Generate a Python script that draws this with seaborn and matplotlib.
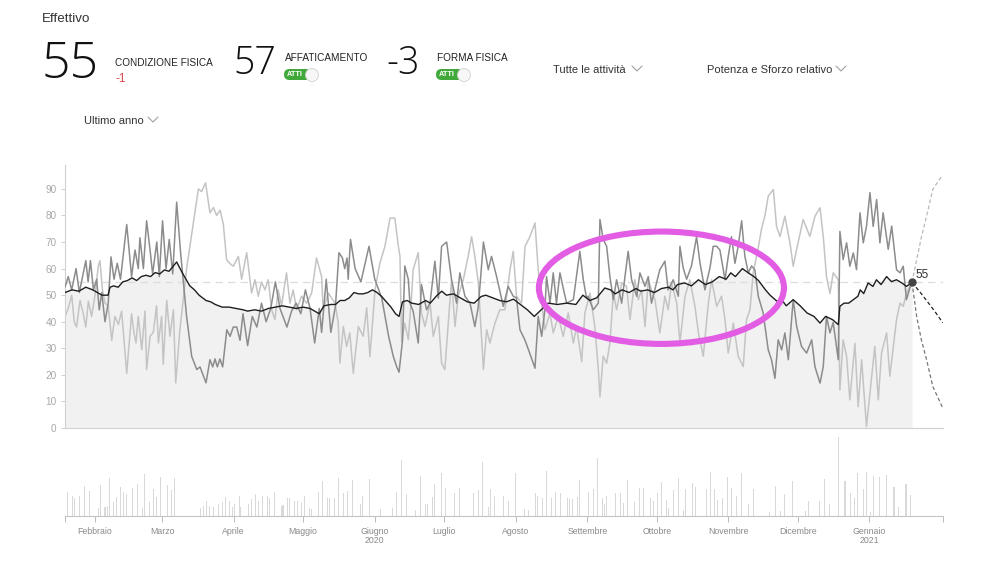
import numpy as np
import pandas as pd
import matplotlib
matplotlib.use('Agg')
import matplotlib.pyplot as plt
import matplotlib.dates as mdates
from matplotlib.patches import Ellipse, FancyBboxPatch, Circle
from matplotlib.lines import Line2D
import seaborn as sns

sns.set_theme(style='white')
plt.rcParams['font.family'] = ['Liberation Sans', 'DejaVu Sans']

START = pd.Timestamp('2020-01-19')

# ---------------- data (day offsets from START) ----------------
fit_days = [0, 3, 6, 9, 12, 14, 16, 18.6, 19.5, 21, 23, 25, 27, 29, 31, 33, 35, 37, 39, 41, 43, 45, 48.3,
            51, 54, 56, 58, 61, 63, 65, 68, 71, 74, 77, 79, 82, 85, 88, 91, 94, 97, 100, 103, 106, 108, 110,
            112, 115, 117, 119, 121, 123, 125, 127, 129, 131, 133, 135, 137, 139, 141, 143, 144.5, 146, 148,
            150, 153, 156, 158, 161, 163, 165, 168, 171, 174, 177, 180, 182, 185, 188, 191, 194, 197, 200,
            203, 206, 209, 213, 217, 221, 224, 227, 230, 233.5, 236, 238, 241, 244, 247, 249, 252, 255, 258,
            261, 263, 265, 268, 271, 274, 277, 280, 283, 286, 288, 290, 293, 295.6, 298, 300, 303, 305, 308,
            310, 312, 315, 318, 321, 324, 326.6, 329, 332, 334.5, 335.2, 337, 339, 341, 343, 344, 345.5,
            347.4, 349.5, 351, 353, 355.4, 357.5, 359.7, 362, 364, 366.4]
fit_vals = [51, 52, 51.5, 53, 52, 51, 50, 50, 53, 53.5, 53, 55, 55.5, 56.5, 55.5, 57, 57.5, 57, 58.5, 58, 59.5, 59, 62.5,
            58, 53.5, 52, 50, 48, 47.5, 46.5, 45.5, 45.5, 45, 44.5, 44, 44.5, 44, 45, 45.5, 46, 45.5, 45, 45.5, 45, 44, 43,
            46, 46.5, 46.5, 48, 48, 49, 51, 50.5, 50.5, 51, 52, 51, 49.5, 47.5, 45.5, 43, 42, 47.5, 48,
            47, 46.5, 48, 47, 50, 51.5, 50, 50.5, 49, 47.5, 47, 49.5, 50, 49, 48, 47.5, 48.5, 46.5, 44.5,
            42, 44.5, 47, 46.5, 47, 46.5, 50, 48, 49, 52.7, 52, 50.5, 52, 51, 52.5, 51.5, 52, 51, 52.5,
            53, 52, 54, 54.6, 53.5, 55.8, 54, 55, 57, 56, 58.4, 57, 60, 58.4, 57, 55.5, 52, 50, 47.7,
            48.3, 46, 48.3, 46, 43.3, 42, 39.5, 42, 40.8, 38.9, 45.8, 47, 47, 48.3, 49.6, 52, 50.6,
            54.6, 53.3, 55.8, 54, 57, 55.1, 55.8, 54.6, 53.3, 54.8]

fat_days = [0, 1.4, 2.9, 4.8, 6.2, 7.6, 9, 10, 11, 12.3, 13.7, 14.8, 15.9, 17.3, 18.7, 19.9, 21.2, 22.6, 24, 26.7,
            28.8, 30.3, 31.7, 32.4, 33.9, 35.3, 36.8, 37.9, 39.7, 40.8, 42.2, 43.7, 45.1, 46.6, 48.3, 50, 52.6,
            54.8, 57, 58.4, 61, 62.7, 63.9, 64.9, 65.9, 67, 68.2, 70, 71.4, 72.8, 74.3, 75.7, 77, 79, 81, 83, 85,
            87, 89, 91, 93, 96, 98, 100, 102, 104, 106, 108, 110, 111, 113, 115, 117, 118.5, 120, 121, 122,
            122.5, 123.5, 125.5, 128, 131.5, 134, 137, 140, 142, 143.5, 144.5, 146, 147, 148.5, 149.2, 150.6,
            152.8, 154.2, 156.4, 157.9, 160, 161.5, 162.9, 165.1, 167.2, 169.4, 170.8, 173, 175.2, 177.3, 178.8,
            181, 183.1, 184.5, 186.7, 189.6, 191.7, 193.9, 195.3, 196.8, 199, 201.1, 203.3, 204.7, 206.2, 207.6,
            208.3, 209.8, 211.2, 212.6, 214.1, 215.5, 217, 219.9, 222.7, 224.2, 225.6, 226.3, 228.5, 230.7,
            231.4, 232.8, 234.3, 235.7, 237.2, 238.6, 240.8, 243.6, 245.1, 247.3, 248.7, 250.9, 252.3, 253.7,
            255.9, 257.3, 259.5, 260.9, 263.1, 265.3, 266, 267.4, 268.9, 271, 273.2, 274.7, 276.8, 279, 280.4,
            281.9, 283.3, 285.5, 286.9, 288.3, 289.8, 291.2, 292.7, 294.1, 295.6, 297, 298.4, 299.9, 302, 302.8,
            304.2, 305.6, 307.1, 308.5, 310, 311.4, 312.9, 315, 316.5, 318.6, 320.8, 323, 324.4, 326.6, 328,
            329.4, 330.9, 332.3, 334.5, 335.2, 336.6, 338.1, 339.5, 341, 342.4, 343.9, 345.3, 346.7, 348.2,
            349.6, 351.1, 352.5, 353.9, 356.1, 357.6, 359.7, 361.2, 362.6, 364, 365.5, 366.4]
fat_vals = [53, 57, 52, 60, 51, 57, 63, 55, 63, 52, 56, 44.5, 51, 40, 47, 64.4, 56, 62, 56, 76.6,
            57, 67, 60, 71.6, 60, 78, 67, 58, 70, 57, 78, 60, 71, 58, 85, 66, 42,
            27, 22, 23, 17, 25.7, 23, 26, 23, 26, 23, 37, 34.5, 38, 38, 33, 43, 31, 42, 38, 47,
            40, 45, 55, 45, 38, 44, 47, 43, 52, 45, 32, 45, 36, 56, 36, 46, 66, 64, 60, 64,
            56, 71, 60, 55, 68.4, 56, 49, 34.5, 27, 23, 21, 33, 61, 56, 47, 44,
            32, 54, 44.5, 47, 62.8, 48.9, 68.4, 70, 55.8, 47, 58.4, 49.6, 47, 38.2, 45.8,
            70, 59.6, 64.6, 57, 45.8, 53.3, 49.6, 49, 37, 33, 28, 22.5, 42, 34.5, 44.5,
            57, 47, 58.4, 47, 58.4, 52.7, 47, 48.3, 66.5, 55.8, 49, 49.6, 44.5, 47,
            78.5, 71, 68.4, 57, 48.3, 55.8, 47, 66.5, 55.8, 49.6, 58.4, 53.3, 57, 47,
            54.6, 59.6, 62.8, 52, 55.8, 49.6, 68.4, 60.3, 56, 61, 72, 62, 52, 60.3, 68.4,
            68.4, 67, 55.8, 64.6, 72, 62, 68.4, 78, 64.6, 58.4, 61, 59.6, 49.6, 43.3, 38.2,
            29.4, 25.7, 18.7, 33.2, 29.4, 35.8, 25.7, 48.3, 38.2, 30.7, 28.2, 33.2, 23.1, 16.9, 23.1,
            42, 35.8, 39.7, 25.7, 74, 63.4, 69.7, 60.9, 65.9, 59.6, 81, 69.7, 75.9, 88.6,
            75.9, 86, 69.7, 81, 67.3, 76, 59.6, 58.4, 60.9, 48.3, 52.8, 54.3]

form_days = [0, 1.4, 2.9, 4, 5, 6.5, 7.9, 9, 10.1, 11.5, 13, 14.4, 15.1, 16.2, 17.3, 18.7, 20.2, 21.6, 23.1, 24.5,
             26.7, 28.8, 29.8, 30.7, 31.7, 33.2, 34.6, 35.3, 36.8, 38.2, 39.6, 40.4, 41.8, 42.5, 44, 45.4, 46.9,
             47.9, 49.7, 52.6, 55.5, 57.7, 59.1, 60.8, 62.7, 64.2, 65.6, 67.1, 68.5, 69.9, 71.2, 72.8, 75, 76.4,
             78.6, 80.7, 82.2, 83.6, 85, 86.5, 87.9, 89.4, 90.8, 92.2, 93.7, 95.8, 97.3, 98.7, 100.2, 102.3, 104.5,
             106.7, 108.8, 111, 111.7, 113.9, 116.8, 118.2, 118.9, 120.4, 121.8, 123.2, 124.7, 126.9, 129, 130.5,
             131.9, 134.1, 136.2, 138.4, 140.6, 142.7, 144.2, 144.9, 145.6, 147, 148.5, 149.9, 150.6, 152.8, 154.2,
             155.7, 157.9, 159.3, 161.5, 162.9, 164.3, 165.8, 167.2, 168.7, 170.1, 172.3, 174.4, 175.9, 177.3,
             178.8, 181, 182.4, 183.8, 186, 188.1, 190.3, 192.5, 193.9, 195.3, 197.5, 199, 201.1, 203.3, 204.7,
             206.2, 207.6, 209.8, 211.2, 213.4, 215.5, 217.7, 219.9, 221.3, 223.5, 224.9, 227.1, 229.2, 230.7,
             231.4, 232.8, 234.3, 235.7, 237.2, 238.6, 240.8, 242.9, 244.4, 246.5, 248, 249.4, 250.9, 252.3,
             253.7, 255.2, 257.3, 259.5, 260.9, 262.4, 264.6, 266, 268.2, 270.3, 272.5, 274, 276.1, 278.3, 279.7,
             281.9, 284, 285.5, 286.9, 289.1, 291.2, 293.4, 294.8, 296.3, 297.7, 299.9, 301.3, 302.8, 304.2,
             306.4, 307.8, 309.3, 311.4, 313.6, 315, 316.5, 319.3, 322.2, 324.4, 326.6, 328, 329.4, 330.9, 332.3,
             334.5, 335.2, 336.6, 338.1, 339.5, 341.7, 343.1, 344.6, 346.7, 348.2, 350.3, 351.8, 353.2, 355.4,
             356.8, 358.3, 359.7, 361.2, 362.6, 364, 365.5, 366.4]
form_vals = [42, 45, 50, 40, 38, 48, 43, 38, 47.7, 42, 50, 61, 63, 52, 47, 46, 33, 42, 39, 44,
             20.6, 43, 36, 32, 42, 29.4, 44, 22, 34.5, 36, 46, 32, 42, 24, 48, 34.5, 44.5,
             17, 37, 60, 77, 90, 89, 92.3, 81, 83, 80, 82, 76.6, 63.4, 62, 60.9, 64.6, 56,
             66, 50.8, 55.8, 49.6, 55, 52, 55.8, 44.5, 40.8, 52, 46, 58.4, 47, 52, 44.5, 49.6, 47,
             50.8, 64, 57, 44.5, 50.8, 47, 39.5, 24.4, 38.2, 30.7, 35.8, 20.6, 38.2, 34.5, 45.2,
             26.9, 52, 62, 68.4, 79, 79, 68.4, 64.6, 32.6, 39.5, 33.2, 49.6, 59.6, 66, 43.3,
             38.2, 47, 34.5, 42, 24.4, 22, 39.5, 55.8, 38.2, 49.6, 55.8, 64.6, 72, 64.6,
             54.6, 22, 37, 32, 39.5, 44.5, 44.5, 59.6, 66.5, 49.6, 47, 68.4, 72, 77.2, 59.6,
             47, 37, 43.3, 35.8, 42, 34.5, 43.3, 32, 38.2, 25, 43.3, 50.8, 38.2, 22,
             11.8, 27, 24.4, 32, 50.8, 44.5, 54.6, 53.3, 40.8, 55.8, 48.3, 52, 38.2, 55.8,
             52, 48.3, 35.8, 49.6, 44.5, 54.6, 47, 32, 49.6, 55.8, 45.8, 35.8, 27, 47, 55.8,
             45.8, 49.6, 40.8, 28.2, 39.5, 27, 23.1, 40.8, 44.5, 58.4, 68, 75, 80, 87.3,
             89.8, 75.9, 72.1, 79.7, 69.7, 60.9, 67.3, 78.5, 72.1, 79.7, 82.9, 72.1, 57, 50.6, 58.4,
             55.8, 14.3, 33.2, 26.9, 10.6, 31.9, 8, 25.7, 0.5, 13.1, 30.7, 10.6, 28.2, 35.8,
             19.5, 30.7, 40.8, 47, 45.8, 50.8, 53.3, 54.3]

# projections
fit_proj_days = [366.4, 370, 374, 377, 379.7]
fit_proj_vals = [54.8, 51, 46.5, 43, 39.6]
form_proj_days = [366.4, 368.4, 370.5, 372.7, 375.4, 379.2]
form_proj_vals = [54.8, 63.4, 72, 79.7, 89.8, 94.8]
fat_proj_days = [366.4, 368.4, 370.5, 372.7, 375.4, 379.7]
fat_proj_vals = [54.8, 42, 33, 25.7, 15.6, 7.5]

# relative effort bars (lower panel)
bar_days = [1, 3.2, 4.3, 6.2, 8.3, 10.4, 14.4, 15.4, 17.3, 18.3, 19.2, 20.9, 22.1, 24.1, 25.2, 26.4, 29.3, 31.3,
            33.6, 34.5, 36.5, 38.4, 39.4, 41.4, 44.3, 46.2, 47.2, 58.7, 59.9, 61.3, 62.5, 64.2, 66.4, 68.3, 69.5,
            71.2, 72.4, 73.2, 75.3, 76.1, 79.4, 80.5, 82.5, 83.7, 85.5, 87.4, 88.6, 90.6, 93.5, 94.3, 96.3, 97.2,
            99.2, 100.4, 102.4, 103.6, 105.6, 106.5, 109.5, 111.5, 113.7, 114.5, 116.5, 118.4, 120.6, 122.3,
            124.5, 127.8, 128.8, 131.7, 136.5, 141.5, 143.4, 145.4, 147.6, 151.6, 153.8, 156, 157, 158.9, 159.9,
            162.8, 164.7, 168.6, 170.7, 176.9, 178.8, 180.8, 183, 184.1, 185.9, 189.6, 191.7, 194.7, 198.6,
            200.4, 203.4, 204.4, 206.5, 208.3, 210.5, 212.2, 214.4, 217.3, 218.4, 219.6, 221.6, 222.5, 226.4,
            228.5, 230.5, 232.6, 233.4, 234.3, 238.3, 240.3, 241.5, 243.3, 246.5, 248.4, 250.4, 253.3, 254.5,
            256.2, 258.2, 260.2, 261.1, 263.1, 265.3, 267.4, 268.6, 271.5, 272.6, 277.5, 279.3, 281.1, 282.4,
            284.5, 286.5, 288.4, 290.6, 292.5, 295.6, 297.7, 304.7, 307.5, 309.6, 311.4, 314.6, 320.5, 321.6,
            326.5, 328.6, 330.6, 334.5, 337.4, 339.6, 341.6, 342.7, 345.6, 346.8, 348.5, 349.6, 352.5, 355.4,
            358.6, 360.4, 363.8, 365.8]
bar_vals = [24, 20, 18, 20, 30, 25, 8, 31, 9, 10, 38, 14, 19, 29, 24, 22, 28, 32,
            8, 42, 14, 27, 19, 39, 31, 26, 38, 8, 10, 15, 10, 9, 12, 14, 19,
            15, 9, 12, 20, 9, 12, 17, 22, 15, 20, 20, 18, 24, 10, 11, 18, 18,
            15, 15, 13, 20, 8, 7, 24, 35, 18, 18, 18, 38, 23, 25,
            36, 12, 20, 37, 7, 8, 24, 56, 22, 6, 40, 12, 12, 19, 32,
            43, 28, 23, 28, 23, 26, 54, 9, 27, 20, 20, 15, 43, 7,
            6, 23, 20, 18, 45, 18, 24, 23, 18, 17, 17, 19, 36, 24,
            27, 58, 18, 12, 20, 23, 23, 13, 36, 14, 28, 28, 18, 15,
            23, 34, 16, 8, 26, 38, 6, 27, 33, 29, 27, 44, 27, 16,
            18, 39, 28, 20, 43, 12, 27, 4, 30, 5, 22, 35, 5, 15,
            15, 37, 12, 79, 35, 23, 18, 43, 27, 44, 4, 40, 39, 41,
            29, 9, 32, 21]

month_names = ['Febbraio', 'Marzo', 'Aprile', 'Maggio', 'Giugno\n2020', 'Luglio', 'Agosto',
               'Settembre', 'Ottobre', 'Novembre', 'Dicembre', 'Gennaio\n2021']
month_starts = pd.date_range('2020-02-01', '2021-01-01', freq='MS')
ytick_vals = [0, 10, 20, 30, 40, 50, 60, 70, 80, 90]


def to_dates(days):
    return START + pd.to_timedelta(np.asarray(days, float), unit='D')


W, H = 996, 573
fig = plt.figure(figsize=(W / 100, H / 100), dpi=100)
fig.patch.set_facecolor('white')


def fx(x):
    return x / W


def fy(y):
    return 1 - y / H


X0, X1 = 65, 943
ax = fig.add_axes([fx(X0), fy(428), (X1 - X0) / W, (428 - 165) / H])
axb = fig.add_axes([fx(X0), fy(516), (X1 - X0) / W, 80 / H])
xmin, xmax = START, START + pd.Timedelta(days=379.8)

# ---------------- main chart ----------------
fit_d = to_dates(fit_days)
ax.axhline(55, color='#dcdcdc', lw=0.9, ls=(0, (6, 4)), zorder=1)
ax.fill_between(fit_d, 0, fit_vals, color='#f1f1f1', lw=0, zorder=0)
sns.lineplot(x=to_dates(form_days), y=form_vals, ax=ax, color='#c4c4c4', lw=1.1, zorder=2)
sns.lineplot(x=to_dates(fat_days), y=fat_vals, ax=ax, color='#8c8c8c', lw=1.1, zorder=3)
sns.lineplot(x=fit_d, y=fit_vals, ax=ax, color='#1e1e1e', lw=1.0, zorder=4)
sns.lineplot(x=to_dates(form_proj_days), y=form_proj_vals, ax=ax, color='#b8b8b8', lw=0.9,
             ls=(0, (3, 2)), zorder=3)
sns.lineplot(x=to_dates(fat_proj_days), y=fat_proj_vals, ax=ax, color='#777777', lw=0.9,
             ls=(0, (3, 2)), zorder=3)
sns.lineplot(x=to_dates(fit_proj_days), y=fit_proj_vals, ax=ax, color='#222222', lw=0.9,
             ls=(0, (3, 2)), zorder=4)
ax.plot(to_dates([fit_days[-1]]), [fit_vals[-1]], 'o', color='#444444', ms=5, zorder=6)
ax.text(to_dates([fit_days[-1] + 1.6])[0], fit_vals[-1] + 0.6, '55', fontsize=8.5, color='#333333',
        va='bottom', ha='left', zorder=6)

ax.set_xlim(xmin, xmax)
ax.set_ylim(0, 99)
ax.set_yticks(ytick_vals)
ax.set_yticklabels([str(v) for v in ytick_vals])
ax.tick_params(axis='y', length=3, width=0.6, color='#c8c8c8', labelsize=7.2, labelcolor='#a8a8a8', pad=3,
               left=True)
ax.tick_params(axis='x', bottom=False, labelbottom=False)
ax.set_xlabel('')
ax.set_ylabel('')
for s in ['top', 'right']:
    ax.spines[s].set_visible(False)
for s in ['left', 'bottom']:
    ax.spines[s].set_color('#d0d0d0')
    ax.spines[s].set_linewidth(0.8)
ax.set_facecolor('none')
ax.grid(False)

# highlight ellipse
ax.add_patch(Ellipse((mdates.date2num(START + pd.Timedelta(days=258.0)), 52.8), width=106, height=42.3,
                     fill=False, ec='#e25ce4', lw=4.4, zorder=10, clip_on=False))

# ---------------- lower bars ----------------
axb.bar(to_dates(bar_days), bar_vals, width=0.45, color='#d9d9d9', lw=0)
axb.set_xlim(xmin, xmax)
axb.set_ylim(0, 80)
axb.set_yticks([])
axb.set_xticks(month_starts)
axb.set_xticklabels(month_names, fontsize=6.3, color='#8a8a8a', linespacing=1.05)
axb.set_xticks([mdates.date2num(xmin), mdates.date2num(xmax)], minor=True)
axb.tick_params(axis='x', which='both', direction='out', length=4, width=0.7, color='#bbbbbb', pad=4,
                bottom=True)
for s in ['top', 'right', 'left']:
    axb.spines[s].set_visible(False)
axb.spines['bottom'].set_color('#c4c4c4')
axb.spines['bottom'].set_linewidth(0.8)
axb.set_facecolor('none')
axb.grid(False)

# ---------------- header ----------------
def T(x, y, s, **kw):
    fig.text(fx(x), fy(y), s, **kw)


BIG = ['Open Sans', 'DejaVu Sans']
T(42, 22, 'Effettivo', fontsize=9.6, color='#333333', va='baseline')
T(42, 78, '55', fontsize=36, color='#111111', va='baseline', family=BIG, fontweight='light')
T(115, 66, 'CONDIZIONE FISICA', fontsize=7.2, color='#222222', va='baseline')
T(115, 82, '-1', fontsize=8.5, color='#e0474c', va='baseline')
T(233, 73.5, '57', fontsize=27, color='#111111', va='baseline', family=BIG, fontweight='light')
T(285, 61, 'AFFATICAMENTO', fontsize=7.2, color='#222222', va='baseline')
T(386, 73.5, '-3', fontsize=27, color='#111111', va='baseline', family=BIG, fontweight='light')
T(437, 61, 'FORMA FISICA', fontsize=7.2, color='#222222', va='baseline')
T(553, 73, 'Tutte le attività', fontsize=8, color='#333333', va='baseline')
T(707, 73, 'Potenza e Sforzo relativo', fontsize=8, color='#333333', va='baseline')
T(84, 124, 'Ultimo anno', fontsize=8, color='#333333', va='baseline')

inch = fig.dpi_scale_trans


def chevron(x, y):
    fig.add_artist(Line2D([x / 100, (x + 5) / 100, (x + 10) / 100],
                          [(H - y) / 100, (H - y - 5) / 100, (H - y) / 100],
                          transform=inch, color='#a0a0a0', lw=0.8))


chevron(632, 66)
chevron(836, 66)
chevron(148, 117)


def toggle(x):
    fig.add_artist(FancyBboxPatch((x / 100, (H - 80) / 100), 27 / 100, 11 / 100,
                                  boxstyle='round,pad=0,rounding_size=0.055', transform=inch,
                                  fc='#41a83a', ec='none'))
    fig.text((x + 2.5) / 100, (H - 75) / 100, 'ATTI', transform=inch, fontsize=5.3, color='white',
             fontweight='bold', va='center', ha='left')
    fig.add_artist(Circle(((x + 28) / 100, (H - 75) / 100), 6.5 / 100, transform=inch,
                          fc='#f7f7f7', ec='#d0d0d0', lw=0.6))


toggle(284)
toggle(436)

fig.savefig('out.png', dpi=100, facecolor='white')
